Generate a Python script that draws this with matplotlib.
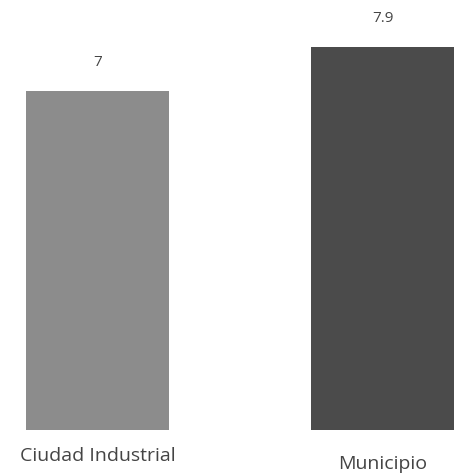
import matplotlib
matplotlib.use("Agg")
from matplotlib import pyplot as plt

categories = ["Ciudad Industrial", "Municipio"]
values = [7, 7.9]
value_labels = ["7", "7.9"]
bar_colors = ["#8c8c8c", "#4b4b4b"]

plt.rcParams['font.family'] = ['Open Sans', 'DejaVu Sans']

fig = plt.figure(figsize=(4.54, 4.76), dpi=100)
# baseline sits about 46 px above the bottom edge
ax = fig.add_axes([0, 46 / 476, 1, 430 / 476])

x = range(len(categories))
bars = ax.bar(x, values, width=0.5, color=bar_colors)
ax.bar_label(bars, labels=value_labels, padding=15, fontsize=11, color="#444444")

ax.set_xlim(-97.5 / 285, (454 - 97.5) / 285)
ax.set_ylim(0, 430 / 48.5)
ax.set_xticks(list(x))
ax.set_xticklabels(categories, fontsize=14, color="#444444")
ax.tick_params(axis='x', length=0, pad=12)
# scan is a bit skewed, the right label sits lower
ax.get_xticklabels()[1].set_y(-0.02)
ax.set_yticks([])
for s in ax.spines.values():
    s.set_visible(False)

fig.savefig("out.png", dpi=100)
